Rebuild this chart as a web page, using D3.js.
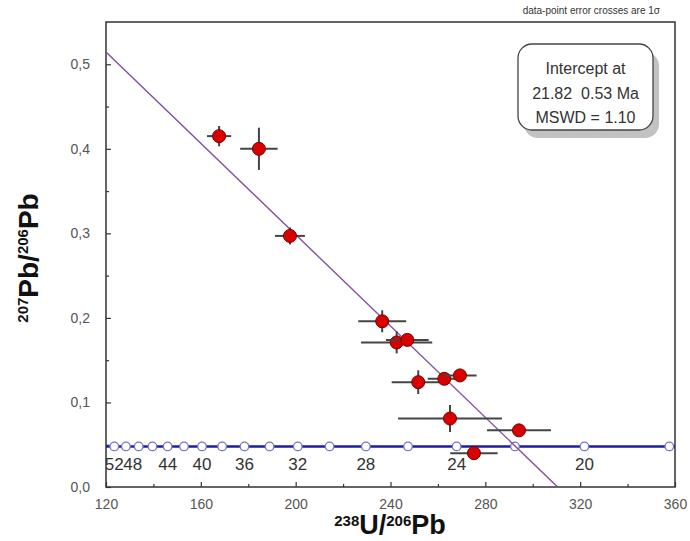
<!DOCTYPE html>
<html>
<head>
<meta charset="utf-8">
<script src="https://cdn.jsdelivr.net/npm/d3@7"></script>
<style>
  body { margin: 0; background: #fff; }
  text { font-family: Arial, "Liberation Sans", sans-serif; }
</style>
</head>
<body>
<svg id="chart" width="690" height="541"></svg>
<script>
// measured points (238U/206Pb, 207Pb/206Pb) with 1 sigma errors
var ratioU = [167.7, 184.5, 197.6, 236.5, 242.6, 247.1, 251.7, 262.7, 269.3, 265.1, 294.2, 275.2];
var ratioPb = [0.415, 0.400, 0.297, 0.196, 0.171, 0.174, 0.124, 0.128, 0.132, 0.081, 0.067, 0.040];
var errU = [5.1, 7.9, 6.3, 10.1, 15, 9, 11.2, 7, 7, 21.9, 13.5, 10];
var errPb = [0.012, 0.025, 0.010, 0.013, 0.013, 0.006, 0.014, 0.006, 0.005, 0.016, 0.005, 0.005];

// concordia age marks (Ma) and their 238U/206Pb positions
var concAges = [18, 20, 22, 24, 26, 28, 30, 32, 34, 36, 38, 40, 42, 44, 46, 48, 50, 52];
var concU = [357.6, 321.8, 292.5, 267.9, 247.4, 229.6, 214.3, 200.9, 189.0, 178.4, 169.0, 160.5, 152.9, 146.0, 139.6, 133.8, 128.4, 123.5];
var concPb = 0.048;
var labelAges = [52, 48, 44, 40, 36, 32, 28, 24, 20];

// regression line end points
var discU = [120, 310.5];
var discPb = [0.5145, 0];

var xTicks = [120, 160, 200, 240, 280, 320, 360];
var yTicks = [0, 0.1, 0.2, 0.3, 0.4, 0.5];

var svg = d3.select("#chart"),
    margin = {top: 22, right: 15, bottom: 54, left: 106},
    width = 690 - margin.left - margin.right,
    height = 541 - margin.top - margin.bottom,
    g = svg.append("g").attr("transform", "translate(" + margin.left + "," + margin.top + ")");

var x = d3.scaleLinear().domain([120, 360]).range([0, width]),
    y = d3.scaleLinear().domain([0, 0.55]).range([height, 0]);

svg.append("defs").append("clipPath").attr("id", "plotclip")
  .append("rect").attr("width", width).attr("height", height);

// ticks pointing inward
var fmt = function(d) { return d3.format(".1f")(d).replace(".", ","); };

g.append("g")
    .attr("transform", "translate(0," + height + ")")
    .call(d3.axisBottom(x).tickValues(xTicks).tickSize(-5).tickPadding(12).tickFormat(d3.format("d")));
g.append("g")
    .attr("transform", "translate(0," + height + ")")
    .call(d3.axisBottom(x).tickValues(d3.range(140, 360, 40)).tickSize(-3).tickFormat(""));

g.append("g")
    .call(d3.axisLeft(y).tickValues(yTicks).tickSize(-5).tickPadding(16).tickFormat(fmt));
g.append("g")
    .call(d3.axisLeft(y).tickValues([0.05, 0.15, 0.25, 0.35, 0.45]).tickSize(-3).tickFormat(""));

g.selectAll(".domain").remove();
g.selectAll(".tick line").attr("stroke", "#333").attr("stroke-width", 1.2);
g.selectAll(".tick text").attr("fill", "#555").style("font-size", "14px");

// frame
g.append("rect")
  .attr("width", width).attr("height", height)
  .attr("fill", "none").attr("stroke", "#333").attr("stroke-width", 1.5);

var plot = g.append("g").attr("clip-path", "url(#plotclip)");

// concordia
plot.append("line")
  .attr("x1", 0).attr("x2", width)
  .attr("y1", y(concPb)).attr("y2", y(concPb))
  .attr("stroke", "#1c1ca8").attr("stroke-width", 2.5);

plot.selectAll(".cmark")
  .data(concU)
  .enter().append("circle")
    .attr("class", "cmark")
    .attr("cx", function(d) { return x(d); })
    .attr("cy", y(concPb))
    .attr("r", 4.3)
    .attr("fill", "#fff")
    .attr("stroke", "#7575c0")
    .attr("stroke-width", 1.3);

plot.selectAll(".clabel")
  .data(labelAges)
  .enter().append("text")
    .attr("class", "clabel")
    .attr("x", function(d) { return x(concU[concAges.indexOf(d)]) + (d == 48 ? -6 : 0); })
    .attr("y", y(concPb) + 24)
    .attr("text-anchor", "middle")
    .attr("fill", "#333")
    .style("font-size", "17px")
    .text(function(d) { return d; });

// regression line
plot.append("line")
  .attr("x1", x(discU[0])).attr("y1", y(discPb[0]))
  .attr("x2", x(discU[1])).attr("y2", y(discPb[1]))
  .attr("stroke", "#8450a0").attr("stroke-width", 1.4);

// error crosses
var pts = ratioU.map(function(u, i) {
  return {u: u, pb: ratioPb[i], eu: errU[i], epb: errPb[i]};
});

var cross = plot.selectAll(".pt")
  .data(pts)
  .enter().append("g")
    .attr("class", "pt");

cross.append("line")
  .attr("x1", function(d) { return x(d.u - d.eu); })
  .attr("x2", function(d) { return x(d.u + d.eu); })
  .attr("y1", function(d) { return y(d.pb); })
  .attr("y2", function(d) { return y(d.pb); })
  .attr("stroke", "#444").attr("stroke-width", 2);

cross.append("line")
  .attr("x1", function(d) { return x(d.u); })
  .attr("x2", function(d) { return x(d.u); })
  .attr("y1", function(d) { return y(d.pb - d.epb); })
  .attr("y2", function(d) { return y(d.pb + d.epb); })
  .attr("stroke", "#444").attr("stroke-width", 2);

cross.append("circle")
  .attr("cx", function(d) { return x(d.u); })
  .attr("cy", function(d) { return y(d.pb); })
  .attr("r", 6.5)
  .attr("fill", "#d90000")
  .attr("stroke", "#7a0000")
  .attr("stroke-width", 1);

// intercept box
var box = svg.append("g").attr("transform", "translate(518,44)");
box.append("rect")
  .attr("x", 6).attr("y", 8).attr("width", 135).attr("height", 86).attr("rx", 14)
  .attr("fill", "#999").attr("opacity", 0.6);
box.append("rect")
  .attr("width", 135).attr("height", 86).attr("rx", 14)
  .attr("fill", "#fff").attr("stroke", "#444").attr("stroke-width", 1.3);
var boxLines = ["Intercept at", "21.82  0.53 Ma", "MSWD = 1.10"];
box.selectAll(".bl")
  .data(boxLines)
  .enter().append("text")
    .attr("x", 67.5)
    .attr("y", function(d, i) { return 30 + i * 24.5; })
    .attr("text-anchor", "middle")
    .attr("fill", "#333")
    .style("font-size", "16px")
    .style("white-space", "pre")
    .text(function(d) { return d; });

// note
svg.append("text")
  .attr("x", 660).attr("y", 14)
  .attr("text-anchor", "end")
  .attr("fill", "#333")
  .style("font-size", "10px")
  .text("data-point error crosses are 1\u03c3");

// axis titles
var xt = svg.append("text")
  .attr("x", 390).attr("y", 534)
  .attr("text-anchor", "middle")
  .attr("fill", "#111")
  .style("font-weight", "bold");
xt.append("tspan").style("font-size", "15px").attr("dy", -8).text("238");
xt.append("tspan").style("font-size", "27px").attr("dy", 8).text("U/");
xt.append("tspan").style("font-size", "15px").attr("dy", -8).text("206");
xt.append("tspan").style("font-size", "27px").attr("dy", 8).text("Pb");

var yt = svg.append("text")
  .attr("transform", "translate(38,258) rotate(-90)")
  .attr("text-anchor", "middle")
  .attr("fill", "#111")
  .style("font-weight", "bold");
yt.append("tspan").style("font-size", "15px").attr("dy", -10).text("207");
yt.append("tspan").style("font-size", "28px").attr("dy", 10).text("Pb/");
yt.append("tspan").style("font-size", "15px").attr("dy", -10).text("206");
yt.append("tspan").style("font-size", "28px").attr("dy", 10).text("Pb");
</script>
</body>
</html>
